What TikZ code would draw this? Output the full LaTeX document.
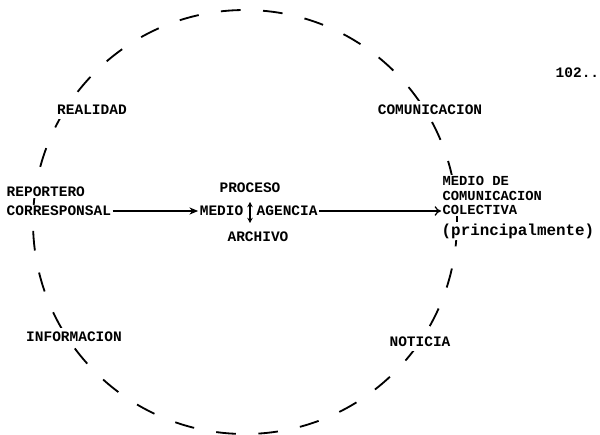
\documentclass[tikz,border=0pt]{standalone}
\usepackage{fontspec}
\usetikzlibrary{arrows.meta,positioning,calc}
\newfontfamily\typewriter{Liberation Mono}

\begin{document}
\begin{tikzpicture}[x=0.025cm,y=-0.025cm,
  font=\typewriter\bfseries\fontsize{10.3}{12}\selectfont,
  ring/.style={draw=black,line width=1.3pt,dash pattern=on 14pt off 16pt},
  flow/.style={-{Stealth[length=2.2mm,width=1.8mm]},line width=0.9pt},
  open/.style={-{To[length=1.6mm,width=2.4mm]},line width=0.9pt},
  label/.style={fill=white,inner sep=3pt},
  word/.style={inner sep=1pt}]
\useasboundingbox (0,0) rectangle (600,435);

% Dashed ring, labels sit on it and hide the dashes.
\node[circle,ring,minimum size=424*0.025cm] (ring) at (245,222) {};
\node[label] (realidad) at (92,110) {REALIDAD};
\node[label] (comunic) at (430,110) {COMUNICACION};
\node[label] (informa) at (74,337) {INFORMACION};
\node[label] (noticia) at (420,342) {NOTICIA};

% Page number.
\node[word,anchor=west] (page) at (554,73) {102..};

% Left side: the source.
\node[word,anchor=west,fill=white] (reportero) at (5,192) {REPORTERO};
\node[word,anchor=west,fill=white] (corresp) at (5,211) {CORRESPONSAL};

% Middle: the process.
\node[word] (proceso) at (250,188) {PROCESO};
\node[word,anchor=east] (medio) at (245,211) {MEDIO};
\node[word,anchor=west] (agencia) at (255,211) {AGENCIA};
\node[word] (archivo) at (258,237) {ARCHIVO};
\coordinate (vtop) at (250,202);
\coordinate (vbot) at (250,223);
\draw[{Stealth[length=1.3mm,width=1.4mm]}-{Stealth[length=1.3mm,width=1.4mm]},line width=0.8pt]
  (vtop)--(vbot);

% Right side: the medium.
\node[word,anchor=north west,align=left,fill=white,
  font=\typewriter\bfseries\fontsize{9.8}{10.2}\selectfont] (medcol) at (441,175)
  {MEDIO DE\\COMUNICACION\\COLECTIVA};
\node[word,anchor=west,fill=white,
  font=\typewriter\bfseries\fontsize{11.3}{13}\selectfont] (princ) at (440,231)
  {(principalmente)};

\draw[flow] (corresp.east)--(medio.west);
\draw[open] (agencia.east)--(agencia.east-|medcol.west);
\end{tikzpicture}
\end{document}
